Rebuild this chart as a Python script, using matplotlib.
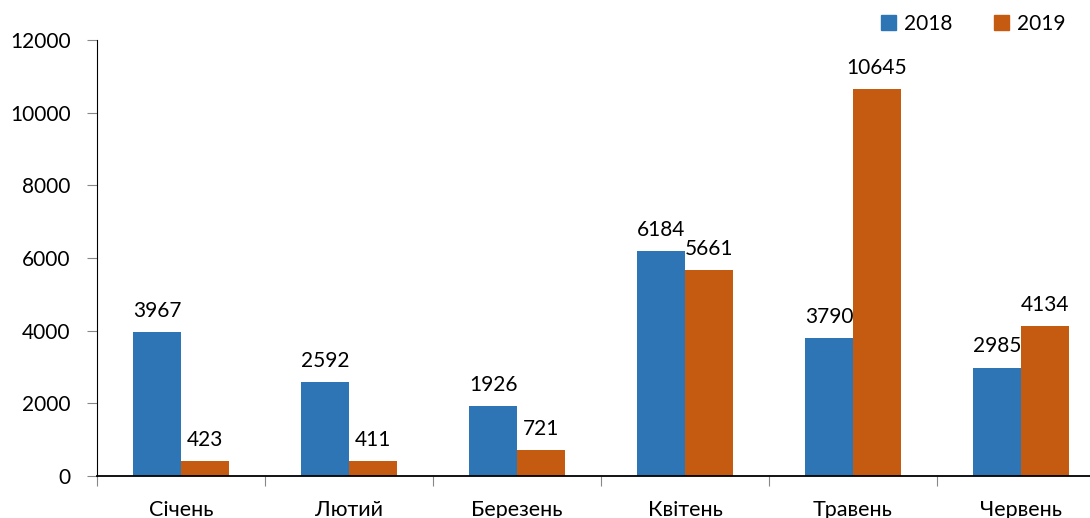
import numpy as np
import matplotlib
matplotlib.use("Agg")
import matplotlib.pyplot as plt
from matplotlib.patches import Patch

months = ["Січень", "Лютий", "Березень", "Квітень", "Травень", "Червень"]
years = ["2018", "2019"]
vals_2018 = [3967, 2592, 1926, 6184, 3790, 2985]
vals_2019 = [423, 411, 721, 5661, 10645, 4134]
colors = ["#2E75B6", "#C55A11"]

plt.rcParams['font.family'] = ['Lato', 'DejaVu Sans']

fig = plt.figure(figsize=(10.9, 5.18), dpi=100)
ax = fig.add_axes([97 / 1090, 42 / 518, 993 / 1090, 436 / 518])

x = np.arange(len(months))
w = 0.285
b1 = ax.bar(x - w / 2, vals_2018, w, color=colors[0])
b2 = ax.bar(x + w / 2, vals_2019, w, color=colors[1])

for bars, vals in [(b1, vals_2018), (b2, vals_2019)]:
    for rect, v in zip(bars, vals):
        ax.annotate(str(v), (rect.get_x() + rect.get_width() / 2, v),
                    xytext=(0, 8), textcoords="offset points",
                    ha="center", va="bottom", fontsize=15)

ax.set_yticks(range(0, 12001, 2000))
ax.tick_params(axis="y", labelsize=15, length=7, color="#888888", pad=12)
ax.set_xticks(np.arange(-0.5, 6, 1), minor=False)
ax.set_xticklabels([])
ax.set_xticks(x, minor=True)
ax.set_xticklabels(months, minor=True, fontsize=15.5)
ax.tick_params(axis="x", which="major", length=7, color="#888888", direction="out")
ax.tick_params(axis="x", which="minor", length=0, pad=17)
# limits last, set_xticks would widen them otherwise
ax.set_xlim(-0.5, -0.5 + 993 / 168)
ax.set_ylim(0, 12000)

for s in ["top", "right"]:
    ax.spines[s].set_visible(False)
ax.spines["left"].set_color("black")
ax.spines["bottom"].set_color("black")
ax.spines["bottom"].set_linewidth(1.3)

handles = [Patch(color=c) for c in colors]
fig.legend(handles, years, loc="upper right", bbox_to_anchor=(0.995, 1.01),
           ncol=2, frameon=False, fontsize=15, handlelength=0.7,
           handleheight=0.7, columnspacing=2.0, handletextpad=0.4)

fig.savefig("out.png", dpi=100)
